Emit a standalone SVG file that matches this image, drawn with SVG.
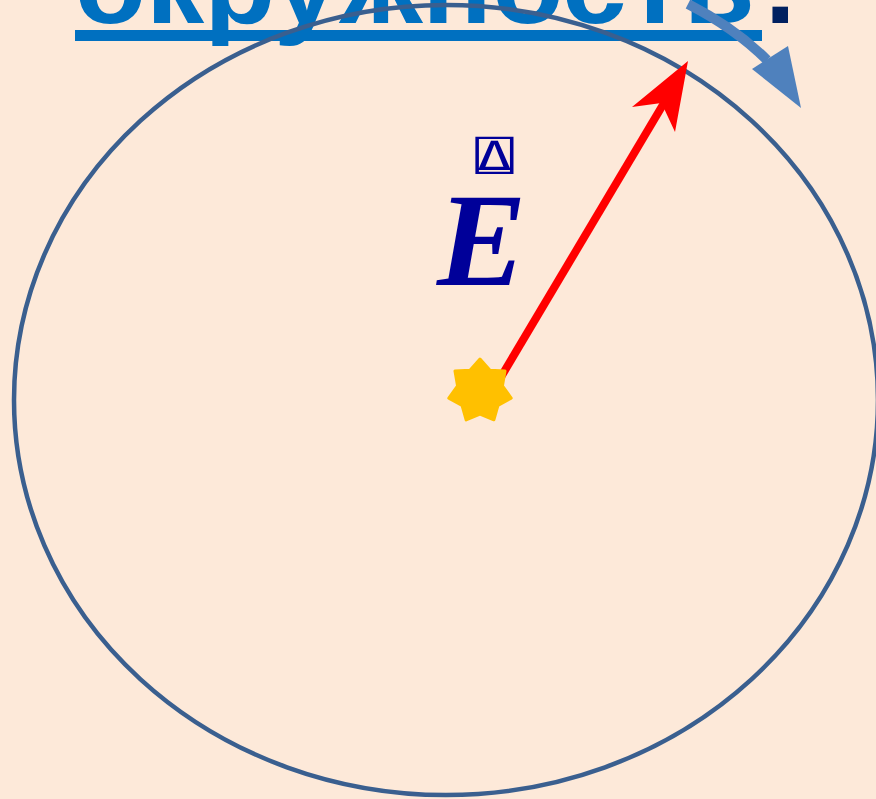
<svg xmlns="http://www.w3.org/2000/svg" width="876" height="799" viewBox="0 0 876 799">
<style>
.title{font-family:"Liberation Sans",Arial,sans-serif;font-weight:bold;font-size:110px;fill:#0070C0}
.dot{font-family:"Liberation Sans",Arial,sans-serif;font-weight:bold;font-size:110px;fill:#002060}
.evar{font-family:"Liberation Serif","Times New Roman",serif;font-weight:bold;font-style:italic;font-size:134px;fill:#000099}
.vec{font-family:"DejaVu Sans Mono","DejaVu Sans",monospace;font-size:40px;fill:#000099}
</style>
<rect width="876" height="799" fill="#FDE9D9"/>
<g id="title">
<text class="title" x="75" y="23" textLength="680" lengthAdjust="spacingAndGlyphs">окружность</text>
<rect x="75" y="30" width="687" height="11" fill="#0070C0"/>
<text class="dot" x="765" y="23">.</text>
</g>
<g id="circle">
<ellipse cx="446" cy="400" rx="432" ry="395" fill="none" stroke="#3A5F8F" stroke-width="4.5"/>
</g>
<g id="connectors">
<path d="M 688 4 Q 735 28 767 60" fill="none" stroke="#4F81BD" stroke-width="10"/>
<polygon points="752,69 788,46 801,108" fill="#4F81BD"/>
<line x1="498" y1="382" x2="664" y2="103" stroke="#FF0000" stroke-width="8"/>
<polygon points="688,61 675,132 661.5,103 632,107" fill="#FF0000"/>
</g>
<g id="charge">
<polygon points="480,359 489.98,370.28 505.02,371.05 502.42,385.88 511.2,398.12 497.98,405.34 493.88,419.83 480,414 466.12,419.83 462.02,405.34 448.8,398.12 457.58,385.88 454.98,371.05 470.02,370.28" fill="#FFC000" stroke="#FFC000" stroke-width="3" stroke-linejoin="round"/>
</g>
<g id="label">
<text class="vec" text-anchor="middle" transform="translate(494.5,170) scale(1.6,1)">⍍</text>
<text class="evar" x="437" y="285">E</text>
</g>
</svg>
